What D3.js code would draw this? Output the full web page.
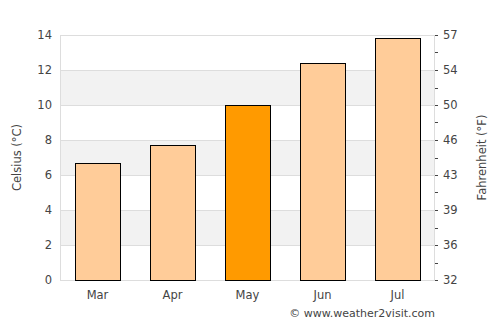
<!DOCTYPE html>
<html>
<head>
<meta charset="utf-8">
<script src="https://cdn.jsdelivr.net/npm/d3@7"></script>
<style>
  body { margin: 0; background: #fff; }
  text { font-family: "DejaVu Sans", sans-serif; fill: #444; }
</style>
</head>
<body>
<svg id="chart" width="500" height="325"></svg>
<script>
const MONTHS = ['Mar', 'Apr', 'May', 'Jun', 'Jul'];
const TEMPS = [6.7, 7.7, 10, 12.4, 13.8];
const HIGHLIGHT = 'May';
const C_TICKS = [0, 2, 4, 6, 8, 10, 12, 14];
const F_LABELS = ['32', '36', '39', '43', '46', '50', '54', '57'];

const SVG = d3.select('#chart');
const LEFT = 60;
const RIGHT = 435;
const TOP = 35;
const BOTTOM = 280;

const x = d3.scaleBand().domain(MONTHS).range([LEFT, RIGHT]).paddingInner(0.4).paddingOuter(0.2);
const y = d3.scaleLinear().domain([0, 14]).range([BOTTOM, TOP]);

// shaded bands
for (let c = 10; c >= 2; c -= 4) {
  SVG.append('rect')
    .attr('x', LEFT).attr('y', y(c + 2))
    .attr('width', RIGHT - LEFT).attr('height', y(c) - y(c + 2))
    .attr('fill', '#f2f2f2');
}

// grid lines
SVG.selectAll('line.grid')
  .data(C_TICKS)
  .join('line')
  .attr('class', 'grid')
  .attr('x1', LEFT).attr('x2', RIGHT)
  .attr('y1', d => Math.round(y(d)) + 0.5).attr('y2', d => Math.round(y(d)) + 0.5)
  .attr('stroke', '#dddddd');

// plot frame sides
SVG.append('line').attr('x1', LEFT + 0.5).attr('x2', LEFT + 0.5).attr('y1', TOP).attr('y2', BOTTOM)
  .attr('stroke', '#dddddd');
SVG.append('line').attr('x1', RIGHT - 0.5).attr('x2', RIGHT - 0.5).attr('y1', TOP).attr('y2', BOTTOM)
  .attr('stroke', '#dddddd');

// bars
SVG.selectAll('rect.bar')
  .data(MONTHS)
  .join('rect')
  .attr('class', 'bar')
  .attr('x', d => Math.round(x(d)) + 0.5)
  .attr('y', (d, i) => Math.round(y(TEMPS[i])) + 0.5)
  .attr('width', Math.round(x.bandwidth()))
  .attr('height', (d, i) => BOTTOM - Math.round(y(TEMPS[i])))
  .attr('fill', d => d === HIGHLIGHT ? '#ff9a00' : '#ffcc99')
  .attr('stroke', '#000')
  .attr('stroke-width', 1);

// left axis labels
SVG.selectAll('text.cel')
  .data(C_TICKS)
  .join('text')
  .attr('class', 'cel')
  .attr('x', 52).attr('y', d => y(d) + 4)
  .attr('text-anchor', 'end')
  .attr('font-size', 11.5)
  .text(d => d);

// right axis ticks (every degree C)
SVG.selectAll('line.ftick')
  .data(d3.range(0, 15))
  .join('line')
  .attr('class', 'ftick')
  .attr('x1', RIGHT).attr('x2', RIGHT + 3)
  .attr('y1', d => Math.round(y(d)) + 0.5).attr('y2', d => Math.round(y(d)) + 0.5)
  .attr('stroke', '#444');

SVG.selectAll('text.fah')
  .data(C_TICKS)
  .join('text')
  .attr('class', 'fah')
  .attr('x', 443).attr('y', (d, i) => y(d) + 4)
  .attr('text-anchor', 'start')
  .attr('font-size', 11.5)
  .text((d, i) => F_LABELS[i]);

// month labels
SVG.selectAll('text.month')
  .data(MONTHS)
  .join('text')
  .attr('class', 'month')
  .attr('x', d => x(d) + x.bandwidth() / 2)
  .attr('y', 299)
  .attr('text-anchor', 'middle')
  .attr('font-size', 11.5)
  .text(d => d);

// axis titles
SVG.append('text')
  .attr('transform', `translate(21,${(TOP + BOTTOM) / 2}) rotate(-90)`)
  .attr('text-anchor', 'middle')
  .attr('font-size', 11.5)
  .text('Celsius (°C)');

SVG.append('text')
  .attr('transform', `translate(486,${(TOP + BOTTOM) / 2}) rotate(-90)`)
  .attr('text-anchor', 'middle')
  .attr('font-size', 11.5)
  .text('Fahrenheit (°F)');

SVG.append('text')
  .attr('x', 435).attr('y', 317)
  .attr('text-anchor', 'end')
  .attr('font-size', 11)
  .text('© www.weather2visit.com');
</script>
</body>
</html>
